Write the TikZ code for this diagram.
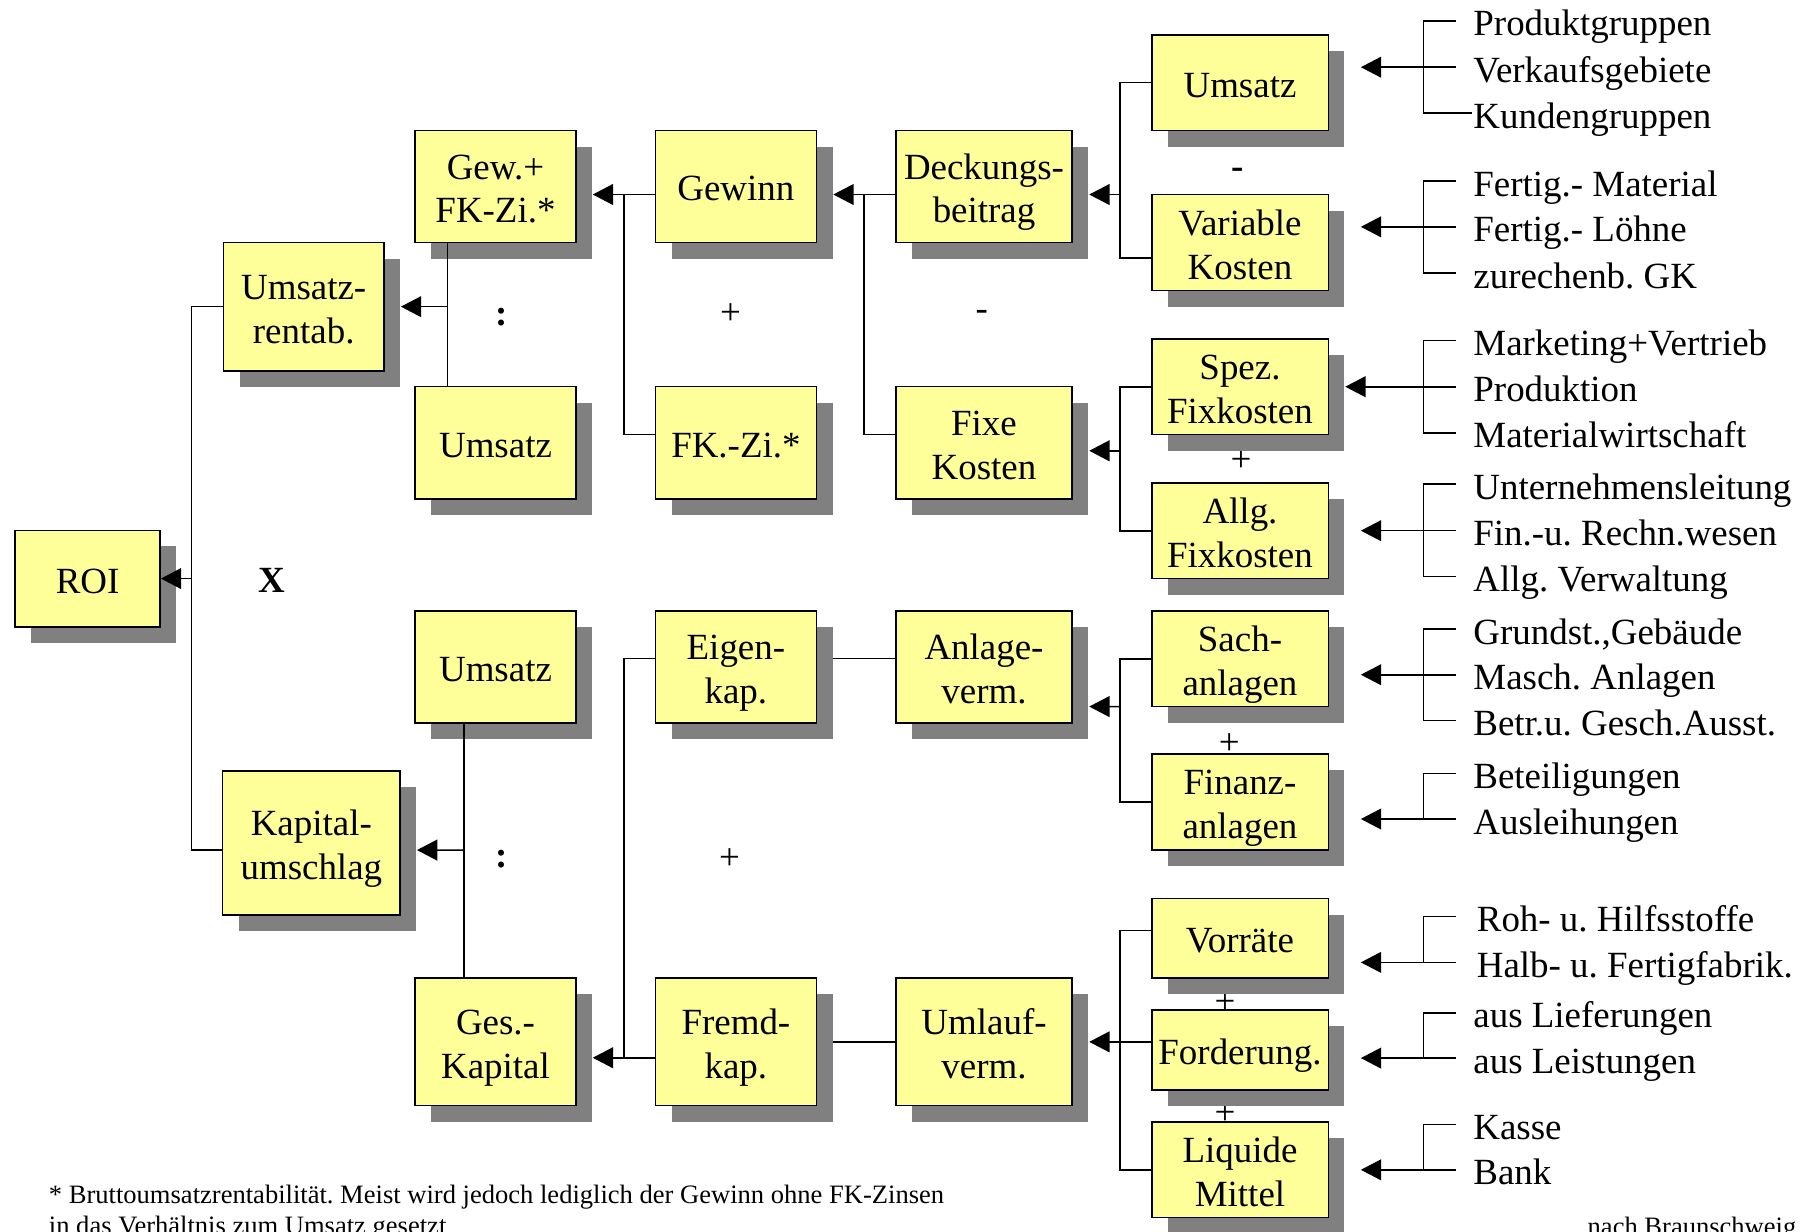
\documentclass[tikz,border=0pt]{standalone}
\usepackage{fontspec}
\setmainfont{Liberation Serif}
\usetikzlibrary{arrows.meta,shadows,calc}
\definecolor{boxfill}{HTML}{FFFF99}
\definecolor{shadowgray}{HTML}{808080}
\frenchspacing
\tikzset{
  box/.style={draw=black, line width=0.7pt, fill=boxfill, align=center, inner sep=0pt,
    font=\fontsize{16}{19}\selectfont,
    drop shadow={shadow xshift=7pt, shadow yshift=-7pt, fill=shadowgray, opacity=1}},
  one/.style={text height=15.6pt, text depth=3pt},
  two/.style={text height=34.6pt, text depth=3pt},
  link/.style={line width=0.7pt},
  arr/.style={link, -{Triangle[length=8.8pt,width=9pt]}},
  item/.style={anchor=west, inner xsep=7.5pt, inner ysep=0pt, text height=13pt,
    text depth=0pt, font=\fontsize{16}{19}\selectfont},
  sign/.style={font=\fontsize{16}{19}\selectfont, inner sep=0pt},
  note/.style={anchor=base west, inner sep=0pt, font=\fontsize{11.5}{13}\selectfont},
}
% box given by its corners (x1,y1) and (x2,y2); optional: number of text lines
\newcommand\bx[7][two]{\node[box, #1, minimum width={(#5-#3)*0.5pt}, minimum height={(#6-#4)*0.5pt}]
  (#2) at ({(#3+#5)/2},{(#4+#6)/2}) {#7};}
\begin{document}
\begin{tikzpicture}[x=0.5pt,y=-0.5pt]
\useasboundingbox (0,0) rectangle (1568,1067);

% operators between the boxes
\node[sign] at (434.5,275) {\textbf{:}};
\node[sign] at (434.6,744) {\textbf{:}};
\node[sign] at (235.4,503) {\textbf{X}};
\node[sign] at (632.9,272.3) {+};
\node[sign] at (632,744.5) {+};
\node[sign] at (850.4,273) {-};
\node[sign] at (1072.2,150) {\textbf{-}};
\node[sign] at (1075,399.5) {+};
\node[sign] at (1065,645) {+};
\node[sign] at (1061.3,869) {+};
\node[sign] at (1061.3,965.5) {+};

% boxes
\bx[one]{roi}{13}{459.4}{138.7}{543}{ROI}
\bx{urent}{193.6}{210}{332.6}{321.3}{Umsatz-\\rentab.}
\bx{kap}{192.9}{667.7}{346.5}{792.7}{Kapital-\\umschlag}
\bx{gew}{359.7}{113}{498.8}{210}{Gew.+\\FK-Zi.*}
\bx[one]{umsa}{359.7}{334.7}{498.8}{432.3}{Umsatz}
\bx[one]{umsb}{359.7}{529.2}{498.8}{626.1}{Umsatz}
\bx{ges}{359.7}{847.3}{498.8}{957.8}{Ges.-\\Kapital}
\bx[one]{gewinn}{567.8}{113}{707.2}{210}{Gewinn}
\bx[one]{fkzi}{567.8}{334.7}{707.2}{432.3}{FK.-Zi.*}
\bx{eigen}{567.8}{529.2}{707.2}{626.1}{Eigen-\\kap.}
\bx{fremd}{567.8}{847.3}{707.2}{957.8}{Fremd-\\kap.}
\bx{db}{776}{113}{928.9}{210}{Deckungs-\\beitrag}
\bx{fixe}{776}{334.7}{928.9}{432.3}{Fixe\\Kosten}
\bx{anl}{776}{529.2}{928.9}{626.1}{Anlage-\\verm.}
\bx{uml}{776}{847.3}{928.9}{957.8}{Umlauf-\\verm.}
\bx[one]{umsr}{997.7}{30.1}{1150.7}{113}{Umsatz}
\bx{var}{997.7}{168.4}{1150.7}{251.8}{Variable\\Kosten}
\bx{spez}{997.7}{293.6}{1150.7}{376.5}{Spez.\\Fixkosten}
\bx{allg}{997.7}{418.3}{1150.7}{501.2}{Allg.\\Fixkosten}
\bx{sach}{997.7}{529.2}{1150.7}{612.1}{Sach-\\anlagen}
\bx{fin}{997.7}{653.3}{1150.7}{736.5}{Finanz-\\anlagen}
\bx[one]{vorr}{997.7}{778.3}{1150.7}{847.3}{Vorräte}
\bx[one]{ford}{997.7}{875.2}{1150.7}{944.2}{Forderung.}
\bx{liq}{997.7}{972.1}{1150.7}{1054.6}{Liquide\\Mittel}

% tree connectors
\coordinate (jroi) at (166,501.2);
\draw[link] (urent.west) -| (jroi) |- ($(kap.west)+(0,6.2)$);
\draw[arr] (jroi) -- (roi.east);

\coordinate (jus) at (387.5,265.65);
\draw[link] (gew.south -| jus) -- (umsa.north -| jus);
\draw[arr] (jus) -- ($(urent.east)+(14,0)$);

\coordinate (jkap) at (401.7,736.4);
\draw[link] (umsb.south -| jkap) -- (ges.north -| jkap);
\draw[arr] (jkap) -- ($(kap.east)+(14,6.2)$);

\coordinate (jgew) at (540.4,168.5);
\draw[arr] ($(gewinn.west)+(0,7)$) -- ($(gew.east)+(14,7)$);
\draw[link] (jgew) |- ($(fkzi.west)+(0,-7)$);

\coordinate (jgw) at (748.3,168.5);
\draw[arr] ($(db.west)+(0,7)$) -- ($(gewinn.east)+(14,7)$);
\draw[link] (jgw) |- ($(fixe.west)+(0,-7)$);

\coordinate (jdb) at (970.3,168.5);
\draw[arr] (jdb) -- ($(db.east)+(14,7)$);
\draw[link] (umsr.west) -| (jdb) |- ($(var.west)+(0,13.4)$);

\coordinate (jfix) at (970.3,390.5);
\draw[arr] (jfix) -- ($(fixe.east)+(14,7)$);
\draw[link] (spez.west) -| (jfix) |- (allg.west);

\coordinate (jges) at (540.4,916.3);
\draw[arr] ($(fremd.west)+(0,13.75)$) -- ($(ges.east)+(14,13.75)$);
\draw[link] (jges) |- ($(eigen.west)+(0,-7.35)$);
\draw[link] ($(eigen.east)+(14,-7.35)$) -- ($(anl.west)+(0,-7.35)$);
\draw[link] ($(fremd.east)+(14,0)$) -- (uml.west);

\coordinate (janl) at (970.3,612.1);
\draw[arr] (janl) -- ($(anl.east)+(14,34.45)$);
\draw[link] (sach.west) -| (janl) |- (fin.west);

\coordinate (juml) at (970.3,902.55);
\draw[arr] ($(ford.west)+(0,-7.15)$) -- ($(uml.east)+(14,0)$);
\draw[link] ($(vorr.west)+(0,-6.6)$) -| (juml) |- (liq.west);

% breakdown lists on the right
\node[item] (pa1) at (1261,18) {Produktgruppen};
\node[item] (pa2) at (1261,58.2) {Verkaufsgebiete};
\node[item] (pa3) at (1261,98) {Kundengruppen};
\draw[link] (pa1.west) -- ++(-28,0) |- ($(pa3.west)+(14,0)$);
\draw[arr] (pa2.west) -- ($(pa2.west -| umsr.east)+(27.5,0)$);

\node[item] (pb1) at (1261,157) {Fertig.- Material};
\node[item] (pb2) at (1261,196.5) {Fertig.- Löhne};
\node[item] (pb3) at (1261,236.5) {zurechenb. GK};
\draw[link] (pb1.west) -- ++(-28,0) |- (pb3.west);
\draw[arr] (pb2.west) -- ($(pb2.west -| var.east)+(27.5,0)$);

\node[item] (pc1) at (1261,295) {Marketing+Vertrieb};
\node[item] (pc2) at (1261,335) {Produktion};
\node[item] (pc3) at (1261,375) {Materialwirtschaft};
\draw[link] (pc1.west) -- ++(-28,0) |- (pc3.west);
\draw[arr] (pc2.west) -- ($(pc2.west -| spez.east)+(14,0)$);

\node[item] (pd1) at (1261,419.5) {Unternehmensleitung};
\node[item] (pd2) at (1261,459.7) {Fin.-u. Rechn.wesen};
\node[item] (pd3) at (1261,499.5) {Allg. Verwaltung};
\draw[link] (pd1.west) -- ++(-28,0) |- (pd3.west);
\draw[arr] (pd2.west) -- ($(pd2.west -| allg.east)+(27.5,0)$);

\node[item] (pe1) at (1261,545) {Grundst.,Gebäude};
\node[item] (pe2) at (1261,584.5) {Masch. Anlagen};
\node[item] (pe3) at (1261,624) {Betr.u. Gesch.Ausst.};
\draw[link] (pe1.west) -- ++(-28,0) |- (pe3.west);
\draw[arr] (pe2.west) -- ($(pe2.west -| sach.east)+(27.5,0)$);

\node[item] (pf1) at (1261,670) {Beteiligungen};
\node[item] (pf2) at (1261,709.5) {Ausleihungen};
\draw[link] (pf1.west) -- ++(-28,0) |- (pf2.west);
\draw[arr] (pf2.west) -- ($(pf2.west -| fin.east)+(27.5,0)$);

\node[item, inner xsep=9pt] (pg1) at (1261,794) {Roh- u. Hilfsstoffe};
\node[item, inner xsep=9pt] (pg2) at (1261,833.7) {Halb- u. Fertigfabrik.};
\draw[link] (pg1.west) -- ++(-28,0) |- (pg2.west);
\draw[arr] (pg2.west) -- ($(pg2.west -| vorr.east)+(27.5,0)$);

\node[item] (ph1) at (1261,877.5) {aus Lieferungen};
\node[item] (ph2) at (1261,916.6) {aus Leistungen};
\draw[link] (ph1.west) -- ++(-28,0) |- (ph2.west);
\draw[arr] (ph2.west) -- ($(ph2.west -| ford.east)+(27.5,0)$);

\node[item] (pi1) at (1261,974) {Kasse};
\node[item] (pi2) at (1261,1013.4) {Bank};
\draw[link] (pi1.west) -- ++(-28,0) |- (pi2.west);
\draw[arr] (pi2.west) -- ($(pi2.west -| liq.east)+(27.5,0)$);

% footnote and source
\node[note] (fn1) at (42,1043) {* Bruttoumsatzrentabilität. Meist wird jedoch lediglich der Gewinn ohne FK-Zinsen};
\node[note] (fn2) at (42,1069) {in das Verhältnis zum Umsatz gesetzt};
\node[note] (src) at (1375,1070) {nach Braunschweig};
\end{tikzpicture}
\end{document}
